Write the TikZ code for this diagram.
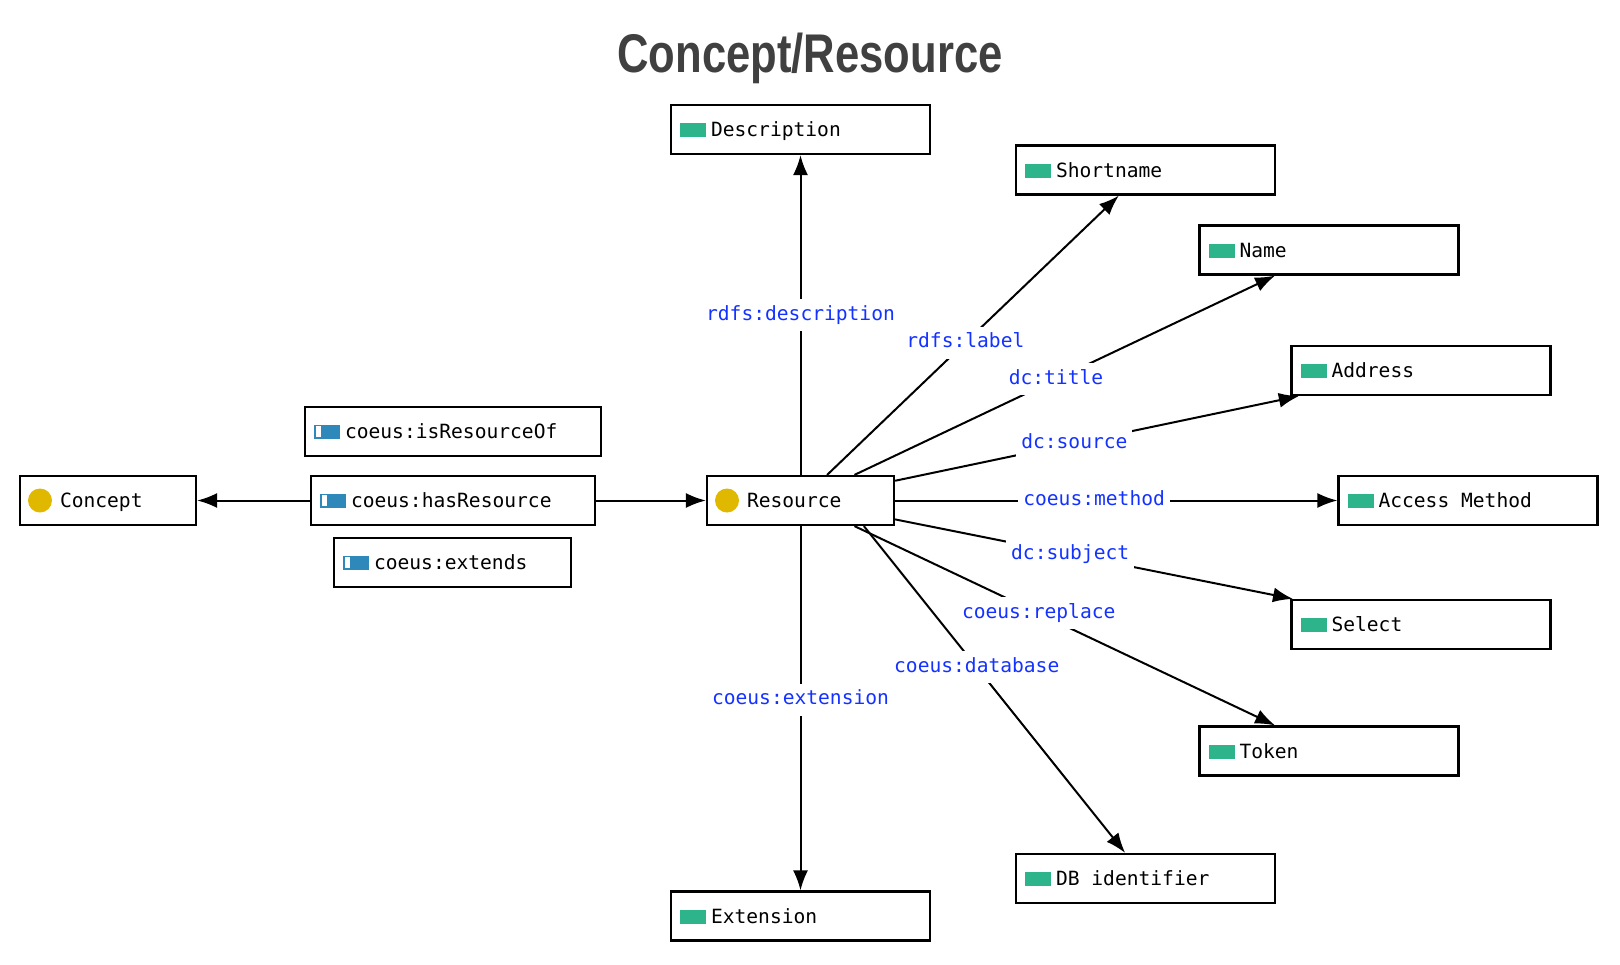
\documentclass[tikz,border=0pt]{standalone}
\usepackage{fontspec}
\setmonofont{DejaVu Sans Mono}
\newfontfamily\headfont{Liberation Sans}
\usetikzlibrary{arrows.meta,positioning}

\definecolor{litgreen}{RGB}{46,180,138}
\definecolor{clsgold}{RGB}{224,184,0}
\definecolor{propblue}{RGB}{46,136,186}
\definecolor{relblue}{RGB}{20,50,255}
\definecolor{headgray}{RGB}{64,64,64}
\newcommand{\monosp}{\hspace*{0.602em}}

\begin{document}
\begin{tikzpicture}[x=1pt,y=-1pt,node distance=345pt,>={Latex[length=20pt,width=15pt]},
  box/.style={draw,line width=2.2pt,rectangle,minimum height=49pt,inner xsep=40pt,inner ysep=0pt,text height=18pt,text depth=4pt,align=left,font=\ttfamily\fontsize{19.6pt}{24pt}\selectfont},
  cls/.style={box,text width=#1,path picture={\fill[clsgold] ([xshift=20pt]path picture bounding box.west) circle[radius=12pt];}},
  lit/.style={box,text width=179pt,path picture={\fill[litgreen] ([xshift=9pt,yshift=-7.5pt]path picture bounding box.west) rectangle ++(26pt,14pt);}},
  prop/.style={box,text width=#1,path picture={\fill[propblue] ([xshift=9pt,yshift=-7pt]path picture bounding box.west) rectangle ++(26pt,14pt);
    \fill[white] ([xshift=10.5pt,yshift=-5.5pt]path picture bounding box.west) rectangle ++(5pt,11pt);}},
  rel/.style={fill=white,text=relblue,inner xsep=5pt,inner ysep=6pt,text height=15pt,text depth=5pt,font=\ttfamily\fontsize{19.6pt}{24pt}\selectfont}]

\useasboundingbox (0,0) rectangle (1620,964);

% Title
\node[anchor=base,text=headgray] (head) at (810,72) {\scalebox{0.8}[1]{\headfont\bfseries\fontsize{54.5pt}{60pt}\selectfont Concept/Resource}};

% Nodes
\node[cls=107pt] (res) at (800.5,500.5) {Resource};
\node[prop=204pt,left of = res,xshift=-2.5pt] (hasres) {coeus:hasResource};
\node[prop=216pt,left of = res,xshift=-2.5pt,yshift=69pt] (isresof) {coeus:isResourceOf};
\node[prop=157pt,left of = res,xshift=-3pt,yshift=-62pt] (extends) {coeus:extends};
\node[cls=96pt,left of = hasres] (concept) {Concept};
\node[lit,above of = res,yshift=26pt] (desc) {Description};
\node[lit,below of = res,yshift=-70.5pt] (ext) {Extension};
\node[lit,right of = res,yshift=330.5pt] (short) {Shortname};
\node[lit,right of = res,xshift=183.5pt,yshift=250.5pt] (name) {Name};
\node[lit,right of = res,xshift=275.5pt,yshift=130pt] (addr) {Address};
\node[lit,right of = res,xshift=322.5pt] (access) {Access\monosp Method};
\node[lit,right of = res,xshift=275.5pt,yshift=-124pt] (select) {Select};
\node[lit,right of = res,xshift=183.5pt,yshift=-250.5pt] (token) {Token};
\node[lit,right of = res,yshift=-378pt] (dbid) {DB\monosp identifier};

%arcs
\path (hasres) edge[->,line width=2pt] (concept);
\path (hasres) edge[->,line width=2pt] (res);
\path (res) edge[->,line width=2pt] node[rel,pos=0.5] {rdfs:description} (desc);
\path (res) edge[->,line width=2pt] node[rel,pos=0.474] {rdfs:label} (short);
\path (res) edge[->,line width=2pt] node[rel,pos=0.479] {dc:title} (name);
\path (res) edge[->,line width=2pt] node[rel,pos=0.444] {dc:source} (addr);
\path (res) edge[->,line width=2pt] node[rel,pos=0.45] {coeus:method} (access);
\path (res) edge[->,line width=2pt] node[rel,pos=0.44] {dc:subject} (select);
\path (res) edge[->,line width=2pt] node[rel,pos=0.438] {coeus:replace} (token);
\path (res.-22) edge[->,line width=2pt] node[rel,pos=0.432] {coeus:database} (dbid);
\path (res) edge[->,line width=2pt] node[rel,pos=0.477] {coeus:extension} (ext);

\end{tikzpicture}
\end{document}
